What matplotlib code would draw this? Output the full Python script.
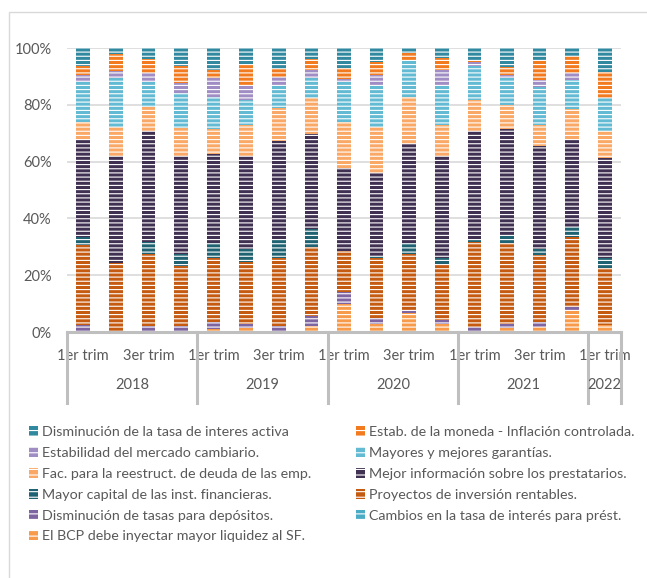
import numpy as np
import matplotlib.pyplot as plt
from matplotlib.patches import Patch, Rectangle
from matplotlib.transforms import blended_transform_factory

plt.rcParams['font.family'] = ['Lato', 'DejaVu Sans']
plt.rcParams['hatch.linewidth'] = 0.8

years = ["2018", "2019", "2020", "2021", "2022"]
quarters = ["1er trim", "2do trim", "3er trim", "4to trim"]
n_quarters = [4, 4, 4, 4, 1]

# porcentajes (de abajo hacia arriba en la pila)
bcp_liquidez   = [0.0, 0.0, 0.0, 0.0, 1.2, 1.5, 0.0, 2.0, 10.0, 2.9, 6.7, 2.7, 0.0, 1.5, 1.8, 7.4, 2.4]
cambios_tasa   = [0.0, 0.0, 0.0, 0.0, 0.0, 0.0, 0.0, 0.0, 0.0, 0.0, 0.0, 0.0, 0.0, 0.0, 0.0, 0.0, 0.0]
dism_depositos = [2.4, 0.0, 2.0, 2.0, 2.3, 1.4, 2.0, 3.5, 4.1, 2.2, 1.2, 1.4, 1.8, 1.4, 1.7, 1.4, 0.0]
proyectos      = [28.2, 24.4, 25.4, 21.2, 22.4, 21.8, 24.2, 24.5, 14.5, 21.1, 19.7, 20.0, 30.0, 28.3, 23.6, 24.7, 20.0]
mayor_capital  = [2.9, 0.0, 4.4, 4.4, 5.5, 4.4, 6.4, 6.1, 0.0, 0.5, 3.8, 1.8, 0.8, 2.6, 2.0, 3.6, 3.5]
mejor_info     = [34.1, 37.6, 39.1, 34.4, 31.3, 32.7, 34.5, 33.5, 29.0, 29.4, 34.8, 36.1, 38.0, 37.6, 36.4, 30.5, 35.3]
fac_reestruct  = [6.5, 10.1, 8.2, 9.8, 8.7, 11.1, 11.7, 12.8, 16.5, 16.0, 16.5, 10.9, 11.2, 8.6, 7.4, 10.9, 9.4]
garantias      = [14.1, 17.3, 8.8, 12.3, 11.5, 8.9, 8.3, 7.0, 14.1, 15.0, 12.9, 13.6, 11.7, 9.4, 13.3, 10.1, 11.8]
estab_mercado  = [2.4, 2.4, 3.3, 3.5, 6.5, 4.7, 2.7, 2.7, 0.9, 3.5, 0.0, 5.6, 1.4, 1.2, 2.4, 2.6, 0.0]
estab_moneda   = [2.9, 6.2, 5.0, 5.9, 3.0, 7.6, 2.8, 4.0, 3.9, 4.4, 2.6, 4.4, 1.0, 2.7, 7.0, 5.9, 9.0]
dism_activa    = [6.5, 2.0, 3.8, 6.5, 7.6, 5.9, 7.4, 3.9, 7.0, 5.0, 1.8, 3.5, 4.1, 6.7, 4.4, 2.9, 8.6]

series = [
    ("El BCP debe inyectar mayor liquidez al SF.", bcp_liquidez, "#F79A4A"),
    ("Cambios en la tasa de interés para prést.", cambios_tasa, "#4BACC6"),
    ("Disminución de tasas para depósitos.", dism_depositos, "#7F64A2"),
    ("Proyectos de inversión rentables.", proyectos, "#C55A11"),
    ("Mayor capital de las inst. financieras.", mayor_capital, "#1F6372"),
    ("Mejor información sobre los prestatarios.", mejor_info, "#403152"),
    ("Fac. para la reestruct. de deuda de las emp.", fac_reestruct, "#F9A866"),
    ("Mayores y mejores garantías.", garantias, "#63BAD3"),
    ("Estabilidad del mercado cambiario.", estab_mercado, "#A08DC4"),
    ("Estab. de la moneda - Inflación controlada.", estab_moneda, "#F37B1F"),
    ("Disminución de la tasa de interes activa", dism_activa, "#3189A0"),
]

labels_q = []
for y, nq in zip(years, n_quarters):
    labels_q += quarters[:nq]
x = np.arange(len(labels_q))

total = np.sum([np.array(s[1]) for s in series], axis=0)

fig = plt.figure(figsize=(6.47, 5.78), dpi=100)
ax = fig.add_axes([67/647, 1-332/578, 554/647, 284/578])

bottom = np.zeros(len(x))
handles = {}
for name, vals, col in series:
    share = np.array(vals) / total
    ax.bar(x, share, 0.42, bottom=bottom, color=col, edgecolor='white',
           linewidth=0, hatch='----', zorder=2)
    bottom += share
    handles[name] = Patch(facecolor=col, edgecolor='white', linewidth=0, hatch='---')

ax.set_xlim(-0.5, len(x) - 0.5)
ax.set_ylim(0, 1)
ax.set_yticks(np.arange(0, 1.01, 0.2))
ax.set_yticklabels(["%d%%" % round(v*100) for v in np.arange(0, 1.01, 0.2)])
ax.yaxis.grid(True, color='#D9D9D9', lw=1.2)
ax.set_axisbelow(True)
for s in ['top', 'right', 'left']:
    ax.spines[s].set_visible(False)
ax.spines['bottom'].set_color('#BFBFBF')
ax.spines['bottom'].set_linewidth(2.2)
ax.spines['bottom'].set_zorder(3)

ax.set_xticks(x[::2])
ax.set_xticklabels(labels_q[::2])
ax.tick_params(axis='both', length=0, labelsize=10.5, colors='#595959')
ax.tick_params(axis='y', pad=11)
ax.tick_params(axis='x', pad=12)

# etiquetas de año y separadores
tr = blended_transform_factory(ax.transData, ax.transAxes)
edges = np.concatenate([[0], np.cumsum(n_quarters)]) - 0.5
for e in edges:
    ax.plot([e, e], [0, -0.25], color='#BFBFBF', lw=2.2, transform=tr, clip_on=False)
for i, y in enumerate(years):
    ax.text((edges[i] + edges[i+1]) / 2, -0.185, y, transform=tr, ha='center', va='center',
            fontsize=10.5, color='#595959')

# marco exterior
fig.add_artist(Rectangle((9/647, -0.1), 1.2, 1.1 - 12/578, transform=fig.transFigure,
                         fill=False, edgecolor='#D9D9D9', lw=1))

col1 = ["Disminución de la tasa de interes activa", "Estabilidad del mercado cambiario.",
        "Fac. para la reestruct. de deuda de las emp.", "Mayor capital de las inst. financieras.",
        "Disminución de tasas para depósitos.", "El BCP debe inyectar mayor liquidez al SF."]
col2 = ["Estab. de la moneda - Inflación controlada.", "Mayores y mejores garantías.",
        "Mejor información sobre los prestatarios.", "Proyectos de inversión rentables.",
        "Cambios en la tasa de interés para prést."]
for names, xpos in [(col1, 22/647), (col2, 349/647)]:
    fig.legend([handles[n] for n in names], names, loc='upper left',
               bbox_to_anchor=(xpos, 1 - 419/578), frameon=False, borderpad=0,
               fontsize=10.3, handlelength=0.65, handleheight=0.65, handletextpad=0.25,
               labelspacing=0.62, labelcolor='#595959')

fig.savefig('out.png', dpi=100)
